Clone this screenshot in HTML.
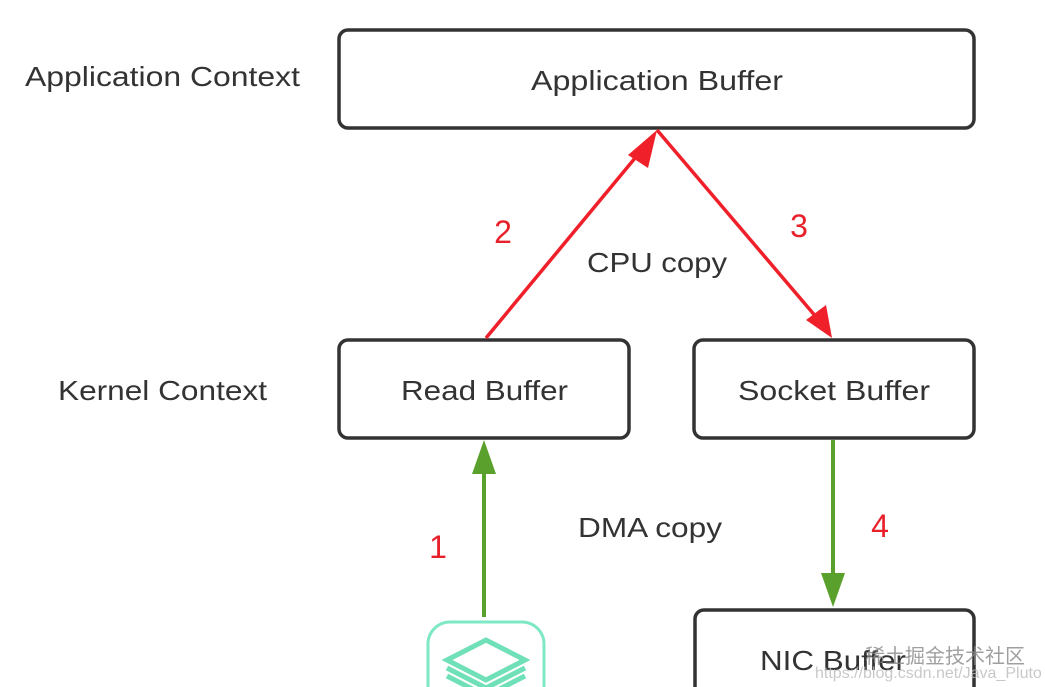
<!DOCTYPE html>
<html><head><meta charset="utf-8"><style>
html,body{margin:0;padding:0;background:#fff;}
svg{display:block;}
text{font-family:"Liberation Sans","Noto Sans CJK SC",sans-serif;}
</style></head><body>
<svg width="1045" height="687" viewBox="0 0 1045 687" xmlns="http://www.w3.org/2000/svg">
<g fill="#fff" stroke="#333" stroke-width="3.5">
<rect x="339" y="30" width="635" height="98" rx="9"/>
<rect x="339" y="340" width="290" height="98" rx="9"/>
<rect x="694" y="340" width="280" height="98" rx="9"/>
<rect x="695" y="610" width="279" height="110" rx="9"/>
</g>
<g fill="#333" font-size="28" lengthAdjust="spacingAndGlyphs">
<text x="25" y="86" textLength="275" lengthAdjust="spacingAndGlyphs">Application Context</text>
<text x="58" y="400" textLength="209" lengthAdjust="spacingAndGlyphs">Kernel Context</text>
<text x="531" y="90" textLength="252" lengthAdjust="spacingAndGlyphs">Application Buffer</text>
<text x="401" y="400" textLength="167" lengthAdjust="spacingAndGlyphs">Read Buffer</text>
<text x="738" y="400" textLength="192" lengthAdjust="spacingAndGlyphs">Socket Buffer</text>
<text x="760" y="670" textLength="146" lengthAdjust="spacingAndGlyphs">NIC Buffer</text>
<text x="587" y="272" textLength="140" lengthAdjust="spacingAndGlyphs">CPU copy</text>
<text x="578" y="537" textLength="144" lengthAdjust="spacingAndGlyphs">DMA copy</text>
</g>
<g fill="#e8202a" font-size="32">
<text x="503" y="243" text-anchor="middle">2</text>
<text x="799" y="237" text-anchor="middle">3</text>
<text x="438" y="558" text-anchor="middle">1</text>
<text x="880" y="537" text-anchor="middle">4</text>
</g>
<g stroke="#f0202a" stroke-width="3.5" fill="none">
<line x1="486" y1="338" x2="640" y2="152"/>
<line x1="657" y1="130" x2="817" y2="318"/>
</g>
<polygon points="657,130 628,155 648,168" fill="#f0202a"/>
<polygon points="832,338 806,320 826,305" fill="#f0202a"/>
<g stroke="#5aa02c" stroke-width="4">
<line x1="484" y1="470" x2="484" y2="617"/>
<line x1="833" y1="440" x2="833" y2="578"/>
</g>
<polygon points="484,440 472,474 496,474" fill="#5aa02c"/>
<polygon points="833,607 821,573 845,573" fill="#5aa02c"/>
<rect x="428" y="622" width="116" height="90" rx="22" fill="none" stroke="#7ee8c4" stroke-width="3"/>
<g fill="none" stroke="#6fe0b8" stroke-width="5">
<path d="M447 668 L486 688 L525 668"/>
<path d="M447 676 L486 696 L525 676"/>
<path d="M447 660 L486 640 L525 660 L486 680 Z"/>
</g>
<text x="865" y="663" font-size="20" fill="#888" opacity="0.8">稀土掘金技术社区</text>
<text x="815" y="678" font-size="16" fill="#bbb" opacity="0.8">https://blog.csdn.net/Java_Pluto</text>
</svg>
</body></html>
